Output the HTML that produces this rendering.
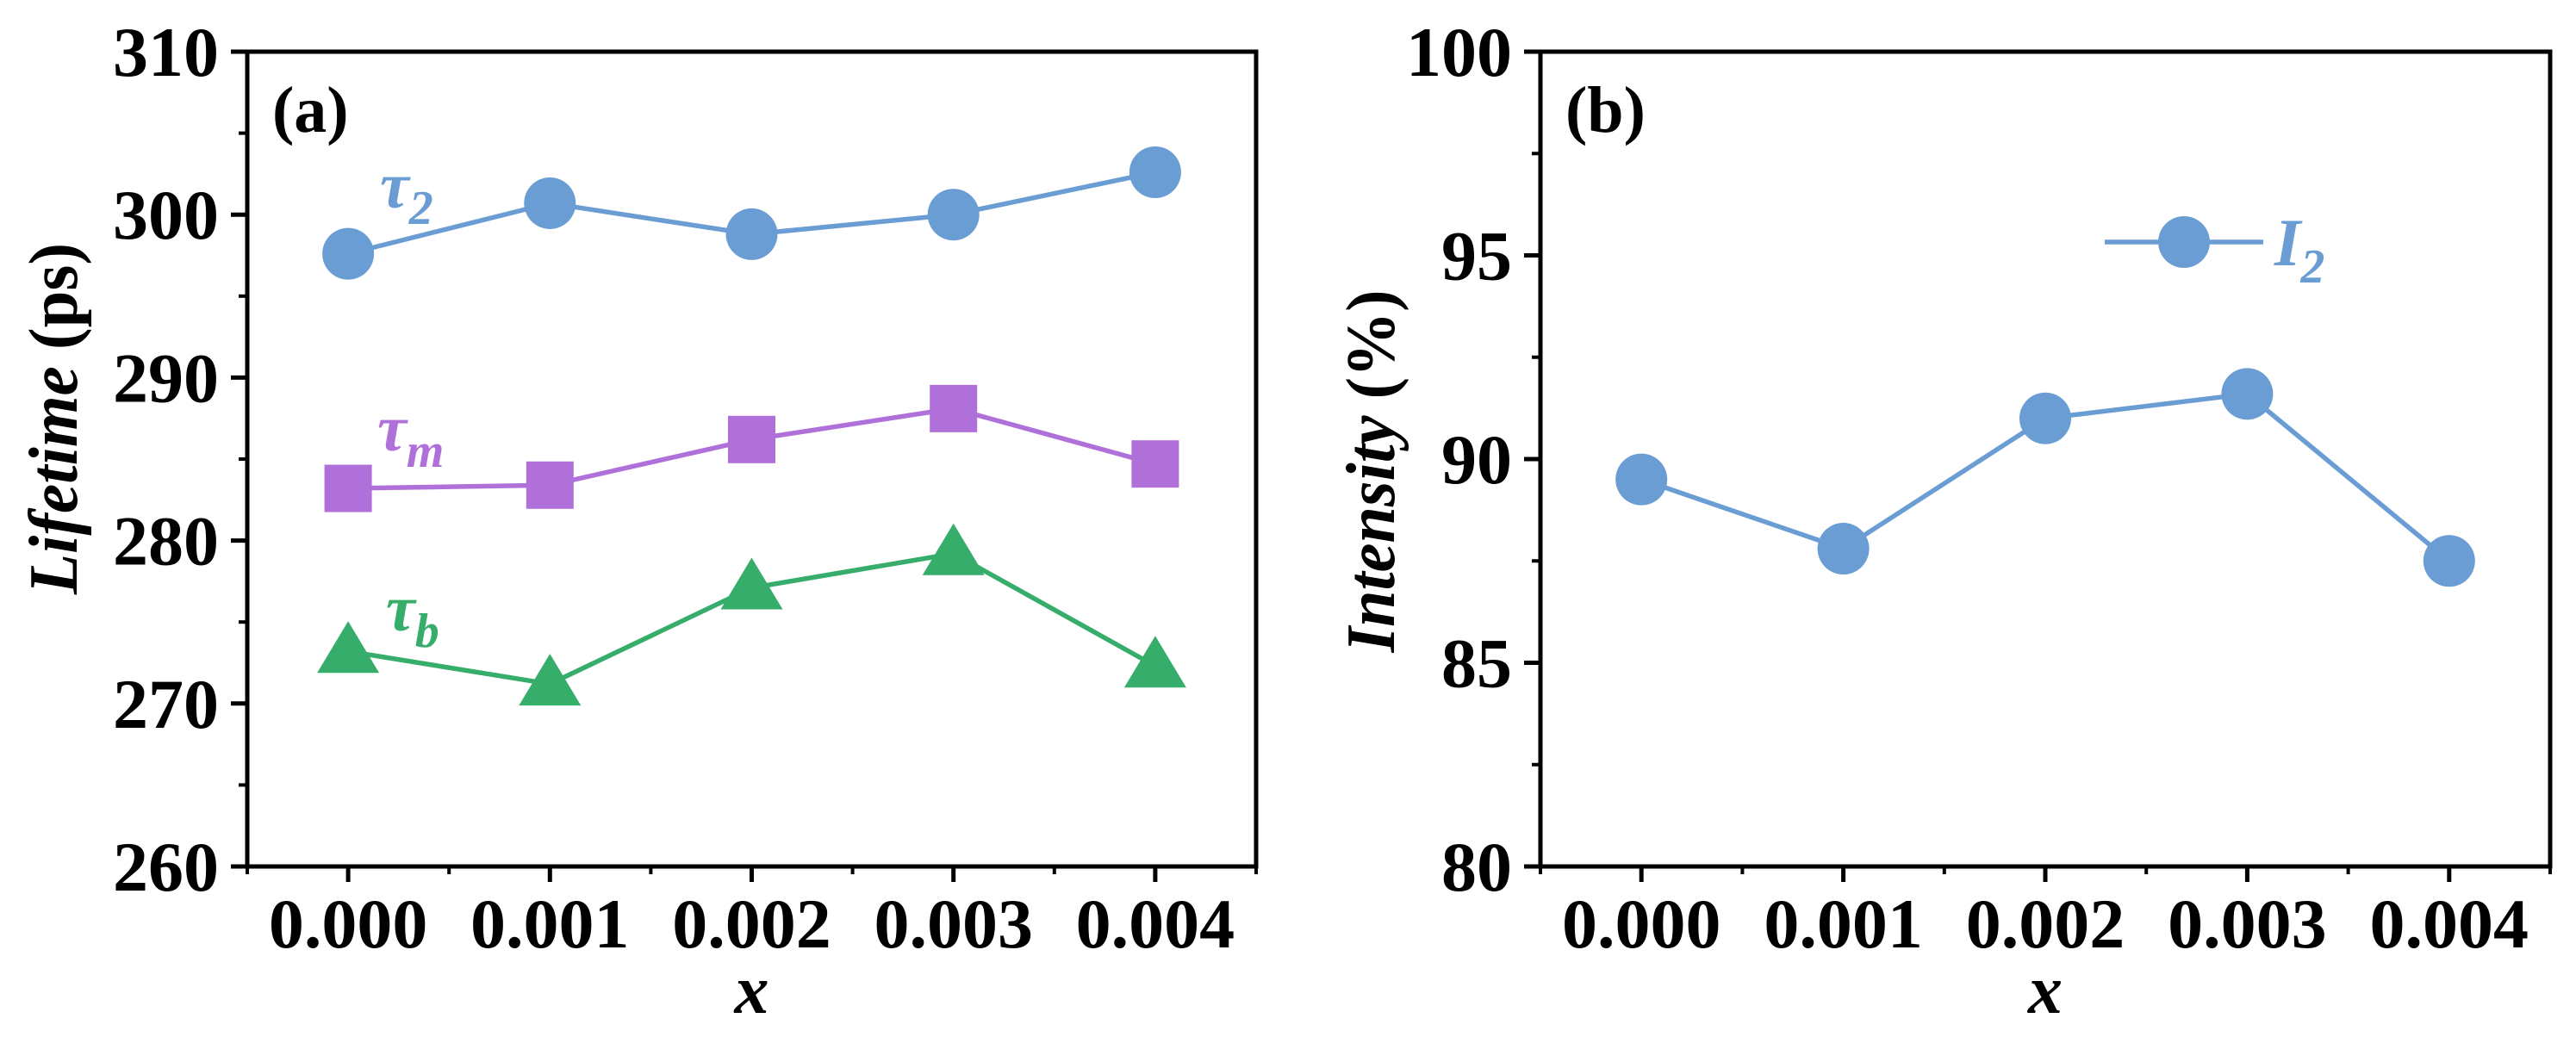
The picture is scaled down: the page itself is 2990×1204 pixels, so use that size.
<!DOCTYPE html>
<html><head><meta charset="utf-8"><style>
html,body{margin:0;padding:0;background:#fff;}
svg{display:block;font-family:"Liberation Serif","Times New Roman",serif;}
</style></head><body>
<svg id="fig" width="2990" height="1204" viewBox="0 0 2990 1204" xmlns="http://www.w3.org/2000/svg"></svg>
<script>
// ---- data ----
const xCats = [0.000, 0.001, 0.002, 0.003, 0.004];
const xTickLabels = ["0.000", "0.001", "0.002", "0.003", "0.004"];
const tau2 = [297.6, 300.7, 298.8, 300.0, 302.6];
const tauM = [283.2, 283.4, 286.2, 288.1, 284.7];
const tauB = [273.2, 271.2, 277.1, 279.2, 272.3];
const leftYTicks = [260, 270, 280, 290, 300, 310];
const leftYLabels = ["260", "270", "280", "290", "300", "310"];
const intensityI2 = [89.5, 87.8, 91.0, 91.6, 87.5];
const rightYTicks = [80, 85, 90, 95, 100];
const rightYLabels = ["80", "85", "90", "95", "100"];

const NS = "http://www.w3.org/2000/svg";
const svg = document.getElementById("fig");
function mk(tag, attrs, parent) {
  const e = document.createElementNS(NS, tag);
  for (const k in attrs) e.setAttribute(k, attrs[k]);
  (parent || svg).appendChild(e);
  return e;
}
const BLUE = "#6a9dd3", PURPLE = "#b070da", GREEN = "#36ad6b";

function panel(cfg) {
  const g = mk("g", {});
  
  
  const L = cfg.left, R = cfg.right, T = 60, B = 1006;
  const xs = v => L + (v - (-0.0005)) / 0.005 * (R - L);
  const ys = v => B - (v - cfg.ymin) / (cfg.ymax - cfg.ymin) * (B - T);
  cfg.xs = xs; cfg.ys = ys;
  const fr = mk("rect", {x: L, y: T, width: R - L, height: B - T, fill: "none", stroke: "#000", "stroke-width": 5}, g);
  
  
  cfg.yTicks.forEach((v, i) => {
    const y = ys(v);
    const t = mk("line", {x1: L - 19, x2: L, y1: y, y2: y, stroke: "#000", "stroke-width": 5}, g);
    
    
    const lb = mk("text", {x: L - 33, y: y + 28, "text-anchor": "end", "font-size": 82, "font-weight": "bold"}, g);
    lb.textContent = cfg.yLabels[i];
    
    
    if (i < cfg.yTicks.length - 1) {
      const ym = ys((v + cfg.yTicks[i + 1]) / 2);
      const m = mk("line", {x1: L - 10, x2: L, y1: ym, y2: ym, stroke: "#000", "stroke-width": 4}, g);
      
      
    }
  });
  xCats.forEach((v, i) => {
    const x = xs(v);
    const t = mk("line", {x1: x, x2: x, y1: B, y2: B + 18, stroke: "#000", "stroke-width": 5}, g);
    
    
    const lb = mk("text", {x: x, y: 1100, "text-anchor": "middle", "font-size": 82, "font-weight": "bold"}, g);
    lb.textContent = xTickLabels[i];
    
    
  });
  for (let k = 0; k <= 5; k++) {
    const x = xs(-0.0005 + k * 0.001);
    const m = mk("line", {x1: x, x2: x, y1: B, y2: B + 9, stroke: "#000", "stroke-width": 4}, g);
    
    
  }
  const xt = mk("text", {x: (L + R) / 2, y: 1176, "text-anchor": "middle", "font-size": 80, "font-weight": "bold", "font-style": "italic"}, g);
  xt.textContent = "x";
  
  
  const yt = mk("text", {x: 0, y: 0, "text-anchor": "middle", "font-size": 80, "font-weight": "bold",
    transform: `translate(${cfg.ytX},${cfg.ytY}) rotate(-90)`, textLength: cfg.ytLen, lengthAdjust: "spacingAndGlyphs"}, g);
  const a = mk("tspan", {"font-style": "italic"}, yt); a.textContent = cfg.ytItalic;
  const b = mk("tspan", {}, yt); b.textContent = cfg.ytRest;
  
  
  const pl = mk("text", {x: L + 29, y: 153, "font-size": 76, "font-weight": "bold"}, g);
  pl.textContent = cfg.tag;
  
  
  return g;
}

function series(cfg, vals, color, shape, name) {
  const g = mk("g", {});
  
  
  const pts = vals.map((v, i) => [cfg.xs(xCats[i]), cfg.ys(v)]);
  const pl = mk("polyline", {points: pts.map(p => p.join(",")).join(" "), fill: "none", stroke: color, "stroke-width": 5.5}, g);
  
  
  pts.forEach(([x, y]) => {
    let m;
    if (shape === "circle") m = mk("circle", {cx: x, cy: y, r: 30, fill: color}, g);
    else if (shape === "square") m = mk("rect", {x: x - 27.5, y: y - 27.5, width: 55, height: 55, fill: color}, g);
    else m = mk("polygon", {points: `${x},${y - 35} ${x - 36},${y + 25} ${x + 36},${y + 25}`, fill: color}, g);
    
    
  });
}

function tauLabel(x, y, sub, color, name) {
  const t = mk("text", {x: x, y: y, fill: color, "font-size": 76, "font-style": "italic", "font-weight": "bold"});
  const a = mk("tspan", {}, t); a.textContent = "τ";
  const b = mk("tspan", {dy: 19, "font-size": 56}, t); b.textContent = sub;
  
  
}

const A = {name: "panel-a-lifetime", left: 287, right: 1458, ymin: 260, ymax: 310,
  yTicks: leftYTicks, yLabels: leftYLabels, ytX: 89, ytY: 486, ytLen: 408,
  ytItalic: "Lifetime ", ytRest: "(ps)", tag: "(a)"};
panel(A);
series(A, tau2, BLUE, "circle", "tau2-series");
series(A, tauM, PURPLE, "square", "taum-series");
series(A, tauB, GREEN, "triangle", "taub-series");
tauLabel(441, 241, "2", BLUE, "tau2-label");
tauLabel(438, 523, "m", PURPLE, "taum-label");
tauLabel(448, 732, "b", GREEN, "taub-label");

const Bp = {name: "panel-b-intensity", left: 1788, right: 2960, ymin: 80, ymax: 100,
  yTicks: rightYTicks, yLabels: rightYLabels, ytX: 1618, ytY: 547, ytLen: 421,
  ytItalic: "Intensity ", ytRest: "(%)", tag: "(b)"};
panel(Bp);
series(Bp, intensityI2, BLUE, "circle", "i2-series");
const lg = mk("g", {});


mk("line", {x1: 2443, x2: 2627, y1: 281, y2: 281, stroke: BLUE, "stroke-width": 5.5}, lg);
mk("circle", {cx: 2535, cy: 281, r: 30, fill: BLUE}, lg);
const lt = mk("text", {x: 2640, y: 308, fill: BLUE, "font-size": 78, "font-style": "italic", "font-weight": "bold"}, lg);
const l1 = mk("tspan", {}, lt); l1.textContent = "I";
const l2 = mk("tspan", {dy: 20, "font-size": 56}, lt); l2.textContent = "2";
</script>
</body></html>
